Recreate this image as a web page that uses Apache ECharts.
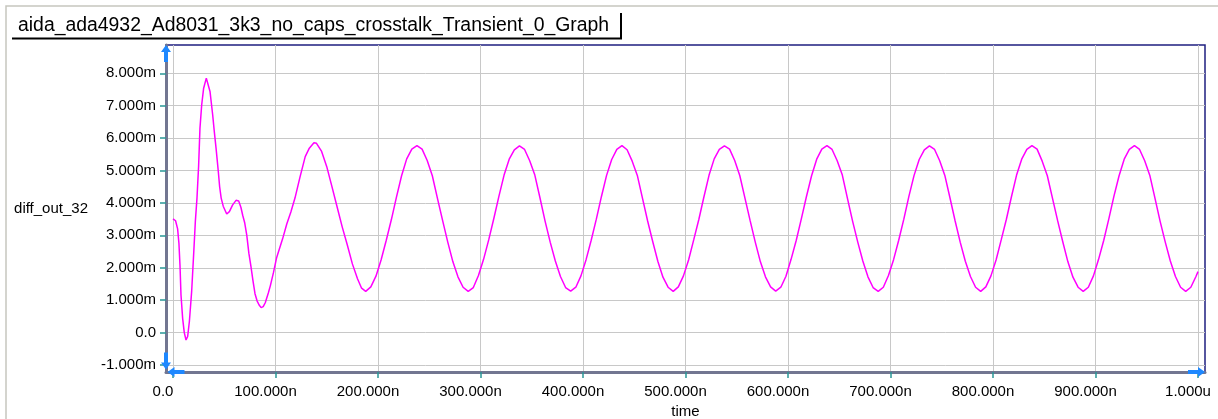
<!DOCTYPE html>
<html><head><meta charset="utf-8">
<script src="https://cdn.jsdelivr.net/npm/echarts@6/dist/echarts.min.js"></script>
<style>html,body{margin:0;padding:0;background:#fff}#c{width:1218px;height:419px}</style>
</head><body><div id="c"></div>
<script>
const chartTitle = 'aida_ada4932_Ad8031_3k3_no_caps_crosstalk_Transient_0_Graph';
const xName = 'time';
const yName = 'diff_out_32';
const xTicks = [0, 100, 200, 300, 400, 500, 600, 700, 800, 900, 1000];
const yTicks = [-1, 0, 1, 2, 3, 4, 5, 6, 7, 8];

// initial transient (time in ns, value in mV)
const transientTimeNs = [0, 2.5, 4.5, 5.8, 6.8, 7.8, 9.4, 11, 12.7, 14.3, 16, 18.2, 20.2, 21.8, 23.4, 25, 26.3, 28, 29.9, 32.5, 34, 36.1, 38.7, 40.3, 42, 44.2, 45.5, 47, 49, 52.4, 55, 58.2, 61.5, 64.1, 66.3, 68, 70, 72, 74, 76, 78, 80, 82, 84, 86, 88, 90, 93, 95, 98, 101, 104, 107, 111, 115, 119, 124, 129, 133, 137.5, 140, 145, 150, 155, 160, 165, 170, 175, 180, 184];
const transientMv = [3.51, 3.45, 3.2, 2.75, 2.09, 1.16, 0.44, 0.0, -0.23, -0.12, 0.35, 1.27, 2.45, 3.43, 4.15, 5.15, 6.3, 7.03, 7.54, 7.85, 7.8, 7.44, 6.72, 6.2, 5.69, 4.97, 4.5, 4.15, 3.9, 3.66, 3.73, 3.94, 4.08, 4.06, 3.86, 3.62, 3.38, 3.0, 2.45, 2.05, 1.6, 1.2, 0.98, 0.85, 0.77, 0.8, 0.92, 1.22, 1.45, 1.85, 2.3, 2.6, 2.9, 3.35, 3.72, 4.15, 4.81, 5.43, 5.69, 5.86, 5.84, 5.59, 5.12, 4.51, 3.89, 3.27, 2.71, 2.12, 1.66, 1.37];

// steady oscillation
const periodicTimeNs = [
 188,193,198,203,208,213,218,223,228,233,238,243,248,253,258,263,268,273,278,283,
 288,293,298,303,308,313,318,323,328,333,338,343,348,353,358,363,368,373,378,383,
 388,393,398,403,408,413,418,423,428,433,438,443,448,453,458,463,468,473,478,483,
 488,493,498,503,508,513,518,523,528,533,538,543,548,553,558,563,568,573,578,583,
 588,593,598,603,608,613,618,623,628,633,638,643,648,653,658,663,668,673,678,683,
 688,693,698,703,708,713,718,723,728,733,738,743,748,753,758,763,768,773,778,783,
 788,793,798,803,808,813,818,823,828,833,838,843,848,853,858,863,868,873,878,883,
 888,893,898,903,908,913,918,923,928,933,938,943,948,953,958,963,968,973,978,983,
 988,993,998,1000];
const periodicMv = [
 1.27,1.41,1.74,2.24,2.84,3.48,4.18,4.84,5.36,5.66,5.77,5.66,5.31,4.84,4.14,3.46,2.80,2.19,1.72,1.40,
 1.27,1.39,1.76,2.26,2.86,3.52,4.21,4.86,5.35,5.64,5.76,5.65,5.30,4.86,4.16,3.44,2.79,2.21,1.73,1.39,
 1.28,1.40,1.75,2.25,2.85,3.50,4.20,4.85,5.34,5.65,5.77,5.64,5.29,4.85,4.15,3.45,2.81,2.20,1.71,1.40,
 1.27,1.41,1.75,2.24,2.86,3.49,4.19,4.86,5.36,5.65,5.76,5.66,5.31,4.84,4.15,3.46,2.80,2.19,1.72,1.41,
 1.28,1.40,1.74,2.26,2.84,3.51,4.20,4.84,5.35,5.66,5.77,5.65,5.30,4.86,4.14,3.44,2.80,2.21,1.72,1.39,
 1.27,1.40,1.76,2.25,2.85,3.50,4.21,4.85,5.34,5.64,5.76,5.65,5.30,4.85,4.16,3.45,2.79,2.20,1.73,1.40,
 1.27,1.41,1.75,2.24,2.86,3.49,4.19,4.86,5.35,5.65,5.77,5.66,5.29,4.84,4.15,3.46,2.81,2.19,1.71,1.40,
 1.27,1.40,1.75,2.26,2.84,3.51,4.21,4.84,5.35,5.65,5.77,5.65,5.30,4.85,4.15,3.44,2.80,2.21,1.73,1.40,
 1.27,1.40,1.73,1.88];

const timeNs = transientTimeNs.concat(periodicTimeNs);
const diffOutMv = transientMv.concat(periodicMv);
const seriesData = timeNs.map((t, i) => [t, diffOutMv[i]]);

const FONT = '"Liberation Sans", Arial, sans-serif';
const xFmt = v => v === 0 ? '0.0' : (v === 1000 ? '1.000u' : v.toFixed(3) + 'n');
const yFmt = v => v === 0 ? '0.0' : v.toFixed(3) + 'm';
const arrow = 'path://M5,0 L10,7 L7,7 L7,17 L3,17 L3,7 L0,7 Z';
const xMin = -6.83, xMax = 1006.83, yMin = -1.216, yMax = 8.873;
const tickColor = '#2a9696';
const axisColor = '#727691';
const arrowColor = '#1e88ff';
const txt = {fontFamily: FONT, fontSize: 15, color: '#000'};

const chart = echarts.init(document.getElementById('c'));
chart.setOption({
  animation: false,
  title: {text: chartTitle, left: 18, top: 16.5, padding: 0,
    textStyle: {fontFamily: FONT, fontSize: 19.4, fontWeight: 'normal', color: '#000'}},
  graphic: [
    {type: 'polyline', shape: {points: [[6, 419], [6, 6], [1218, 6]]}, style: {stroke: '#c6c6be', lineWidth: 1.5, fill: null}, silent: true},
    {type: 'polyline', shape: {points: [[12, 38.5], [621, 38.5], [621, 13]]}, style: {stroke: '#000', lineWidth: 2, fill: null}, silent: true}
  ],
  grid: {left: 166, right: 13, top: 45, bottom: 47, outerBoundsMode: 'none', containLabel: false,
    show: true, borderColor: '#1f1f80', borderWidth: 1.5, backgroundColor: 'rgba(0,0,0,0)'},
  xAxis: [
    {type: 'value', min: xMin, max: xMax, position: 'bottom',
     name: xName, nameLocation: 'middle', nameGap: 29, nameTextStyle: txt,
     axisLine: {show: true, onZero: false, lineStyle: {color: axisColor, width: 3}},
     axisTick: {show: true, customValues: xTicks, length: 6, lineStyle: {color: tickColor, width: 1.5}},
     axisLabel: {customValues: xTicks, formatter: xFmt, margin: 12, padding: [0, 20, 0, 0], ...txt},
     splitLine: {show: true, lineStyle: {color: '#c8c8c8', width: 1}}},
    {type: 'value', min: xMin, max: xMax, position: 'bottom',
     axisLine: {show: true, onZero: false, symbol: [arrow, arrow], symbolSize: [10, 17], symbolOffset: [10, -8.5], lineStyle: {color: arrowColor, width: 0}},
     axisTick: {show: false}, axisLabel: {show: false}, splitLine: {show: false}}
  ],
  yAxis: [
    {type: 'value', min: yMin, max: yMax, position: 'left',
     name: yName, nameLocation: 'middle', nameRotate: 0, nameGap: 78,
     nameTextStyle: {...txt, padding: [5, 0, 0, 0]},
     axisLine: {show: true, onZero: false, lineStyle: {color: axisColor, width: 3}},
     axisTick: {show: true, customValues: yTicks, length: 6, lineStyle: {color: tickColor, width: 1.5}},
     axisLabel: {customValues: yTicks, formatter: yFmt, margin: 10, ...txt},
     splitLine: {show: true, lineStyle: {color: '#c8c8c8', width: 1}}},
    {type: 'value', min: yMin, max: yMax, position: 'left',
     axisLine: {show: true, onZero: false, symbol: [arrow, arrow], symbolSize: [10, 17], symbolOffset: [11, -8.5], lineStyle: {color: arrowColor, width: 0}},
     axisTick: {show: false}, axisLabel: {show: false}, splitLine: {show: false}}
  ],
  series: [{type: 'line', xAxisIndex: 0, yAxisIndex: 0, data: seriesData, showSymbol: false, smooth: false,
    lineStyle: {color: '#ff00ff', width: 1.5}, itemStyle: {color: '#ff00ff'}}]
});
</script></body></html>
